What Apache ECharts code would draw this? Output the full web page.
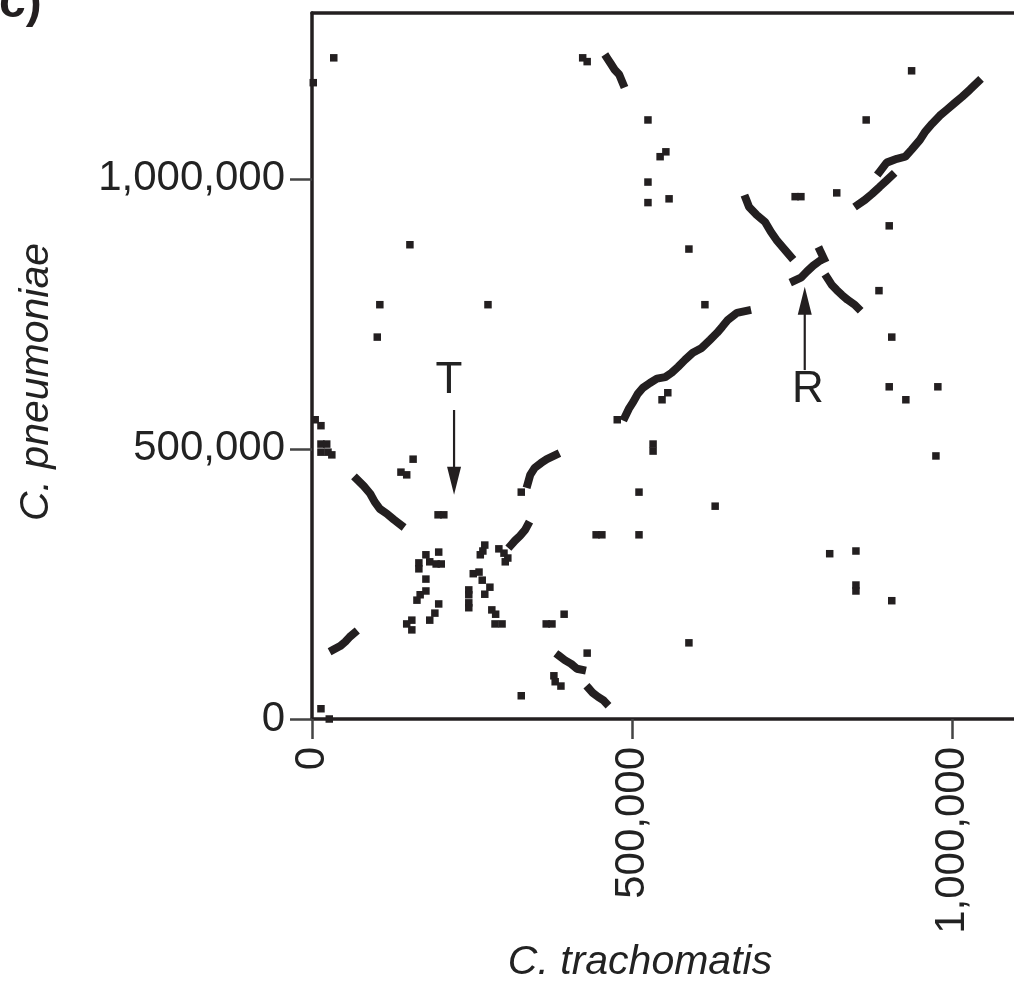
<!DOCTYPE html>
<html>
<head>
<meta charset="utf-8">
<script src="https://cdn.jsdelivr.net/npm/echarts@6/dist/echarts.min.js"></script>
<style>
html,body{margin:0;padding:0;background:#fff;}
#chart{width:1014px;height:986px;}
</style>
</head>
<body>
<div id="chart"></div>
<script>
// Axis ticks (bp)
const xTicks = [0, 500000, 1000000];
const yTicks = [0, 500000, 1000000];
const xTitle = 'C. trachomatis';
const yTitle = 'C. pneumoniae';

// Isolated match dots [C. trachomatis position, C. pneumoniae position]
const dots = [
  [2000,1178000],[34000,1224000],[423000,1224000],[430000,1217000],
  [525000,1109000],[525000,994000],[525000,956000],[558000,963000],
  [544000,1041000],[553000,1050000],[589000,870000],[153000,878000],
  [937000,1200000],[866000,1109000],[820000,974000],[755000,967000],[764000,967000],
  [902000,913000],[886000,793000],[906000,707000],[902000,615000],[978000,615000],
  [928000,591000],[975000,487000],[614000,767000],[533000,509000],[533000,496000],
  [547000,591000],[556000,604000],[106000,767000],[275000,767000],[102000,707000],
  [5000,554000],[14000,543000],
  [14000,509000],[23000,509000],[14000,494000],[25000,494000],[31000,489000],
  [158000,481000],[139000,457000],[148000,452000],[511000,420000],[327000,420000],
  [197000,378000],[206000,378000],[444000,341000],[453000,341000],[511000,341000],
  [366000,176000],[375000,176000],[394000,194000],[430000,122000],[327000,43000],
  [14000,19000],[27000,0],[630000,394000],[809000,306000],[850000,311000],
  [850000,248000],[850000,237000],[906000,219000],[589000,141000],[477000,554000],
  // cluster left of centre
  [178000,304000],[184000,291000],[194000,287000],[202000,287000],[198000,309000],
  [167000,289000],[167000,278000],[178000,259000],[178000,237000],[169000,230000],
  [164000,220000],[198000,213000],[192000,196000],[184000,183000],[156000,183000],
  [148000,176000],[156000,165000],
  // cluster right
  [270000,322000],[267000,311000],[263000,304000],[292000,315000],[300000,307000],
  [306000,298000],[302000,291000],[252000,269000],[261000,272000],[266000,257000],
  [278000,244000],[270000,231000],[245000,239000],[245000,230000],[245000,215000],
  [245000,206000],[281000,202000],[287000,194000],[286000,176000],[297000,176000],
  // lower
  [378000,80000],[380000,69000],[389000,61000]
];

// Runs of consecutive matches (diagonal segments)
const seg1 = [[461000,1224000],[467000,1213000],[473000,1202000],[480000,1193000],[486000,1176000]];
const seg2 = [[678000,963000],[683000,948000],[695000,933000],[708000,920000],[717000,902000],[727000,885000],[738000,870000],[748000,856000]];
const seg3 = [[794000,867000],[800000,852000]];
const seg4 = [[753000,811000],[764000,817000],[773000,828000],[783000,839000],[791000,846000]];
const seg5 = [[805000,817000],[812000,804000],[820000,794000],[828000,785000],[837000,776000],[848000,767000],[853000,761000]];
const seg6 = [[853000,952000],[864000,961000],[875000,972000],[887000,985000],[897000,996000],[906000,1006000]];
const seg7 = [[887000,1013000],[898000,1030000],[914000,1037000],[927000,1041000],[937000,1054000],[950000,1072000],[958000,1087000],[969000,1102000],[981000,1117000],[992000,1128000],[1005000,1141000],[1016000,1152000],[1028000,1165000],[1041000,1180000]];
const seg8 = [[489000,559000],[495000,574000],[502000,587000],[509000,602000],[517000,613000],[528000,622000],[539000,630000],[552000,633000],[562000,641000],[572000,652000],[583000,665000],[595000,678000],[609000,687000],[622000,702000],[633000,715000],[641000,726000],[650000,739000],[664000,752000],[680000,756000]];
const seg9 = [[337000,435000],[341000,452000],[348000,465000],[358000,474000],[367000,481000],[381000,489000]];
const seg10 = [[70000,444000],[81000,431000],[91000,417000],[98000,402000],[106000,389000],[117000,380000],[128000,369000],[139000,359000]];
const seg11 = [[311000,322000],[317000,330000],[325000,339000],[333000,350000],[337000,359000]];
const seg12 = [[386000,117000],[395000,109000],[405000,102000],[414000,93000],[422000,91000]];
const seg13 = [[433000,56000],[439000,48000],[447000,41000],[455000,35000],[459000,30000]];
const seg14 = [[33000,128000],[44000,135000],[52000,143000],[59000,152000],[66000,159000]];
const segments = [seg1,seg2,seg3,seg4,seg5,seg6,seg7,seg8,seg9,seg10,seg11,seg12,seg13,seg14];

// Annotation anchors (data coords)
const annotations = [
  {label:'T', text:[214000,626000], from:[222000,572000], to:[222000,415000]},
  {label:'R', text:[775000,609000], from:[770000,646000], to:[770000,800000]}
];

const INK = '#231f20';
const FONT = '"Liberation Sans", Arial, Helvetica, sans-serif';
const fmt = v => Number(v).toLocaleString('en-US');

const chart = echarts.init(document.getElementById('chart'), null, {renderer:'canvas'});

const series = [];
segments.forEach(s => series.push({
  type:'line', data:s, showSymbol:false, symbol:'none', silent:true, z:5,
  lineStyle:{color:INK, width:8, cap:'square', join:'bevel', opacity:1}, animation:false, clip:false
}));
series.push({
  type:'scatter', data:dots, symbol:'rect', symbolSize:7.5, silent:true, z:6, clip:false,
  itemStyle:{color:INK, opacity:1}, animation:false
});

chart.setOption({
  animation:false,
  backgroundColor:'#fff',
  grid:{left:312, right:0, top:13, bottom:267, containLabel:false},
  xAxis:[{
    type:'value', min:0, max:1097000, position:'bottom',
    axisLine:{show:true, onZero:false, lineStyle:{color:INK, width:3.5}},
    axisTick:{show:true, inside:false, length:20, customValues:xTicks, lineStyle:{color:'#444', width:2.5}},
    axisLabel:{show:true, customValues:xTicks, rotate:90, margin:28, formatter:fmt,
      fontFamily:FONT, fontSize:42, color:'#222'},
    splitLine:{show:false}
  },{
    type:'value', min:0, max:1097000, position:'top',
    axisLine:{show:true, onZero:false, lineStyle:{color:INK, width:3.5}},
    axisTick:{show:false}, axisLabel:{show:false}, splitLine:{show:false}
  }],
  yAxis:{
    type:'value', min:0, max:1307000,
    axisLine:{show:true, onZero:false, lineStyle:{color:INK, width:3.5}},
    axisTick:{show:true, length:22, customValues:yTicks, lineStyle:{color:'#444', width:2.5}},
    axisLabel:{show:true, customValues:yTicks, margin:27, formatter:fmt,
      fontFamily:FONT, fontSize:42, color:'#222'},
    splitLine:{show:false}
  },
  series:series
});

// Titles and annotations
const g = [];
g.push({type:'text', x:37, y:382, rotation:Math.PI/2,
  style:{text:yTitle, font:'italic 41px ' + FONT, fill:'#222', align:'center', verticalAlign:'middle'}});
g.push({type:'text', x:640, y:963,
  style:{text:xTitle, font:'italic 41px ' + FONT, fill:'#222', align:'center', verticalAlign:'middle'}});
g.push({type:'text', x:-1, y:4,
  style:{text:'c)', font:'bold 48px ' + FONT, fill:INK, align:'left', verticalAlign:'middle'}});

annotations.forEach(a => {
  const t = chart.convertToPixel({gridIndex:0}, a.text);
  const p0 = chart.convertToPixel({gridIndex:0}, a.from);
  const p1 = chart.convertToPixel({gridIndex:0}, a.to);
  const dir = p1[1] > p0[1] ? 1 : -1;
  const headLen = 28, headHalf = 7;
  g.push({type:'text', x:t[0], y:t[1],
    style:{text:a.label, font:'44px ' + FONT, fill:'#222', align:'center', verticalAlign:'middle'}});
  g.push({type:'line', shape:{x1:p0[0], y1:p0[1], x2:p1[0], y2:p1[1] - dir*headLen*0.5},
    style:{stroke:INK, lineWidth:2.2}});
  g.push({type:'polygon', shape:{points:[[p1[0], p1[1]], [p1[0]-headHalf, p1[1]-dir*headLen], [p1[0]+headHalf, p1[1]-dir*headLen]]},
    style:{fill:INK}});
});
chart.setOption({graphic:g});
</script>
</body>
</html>
